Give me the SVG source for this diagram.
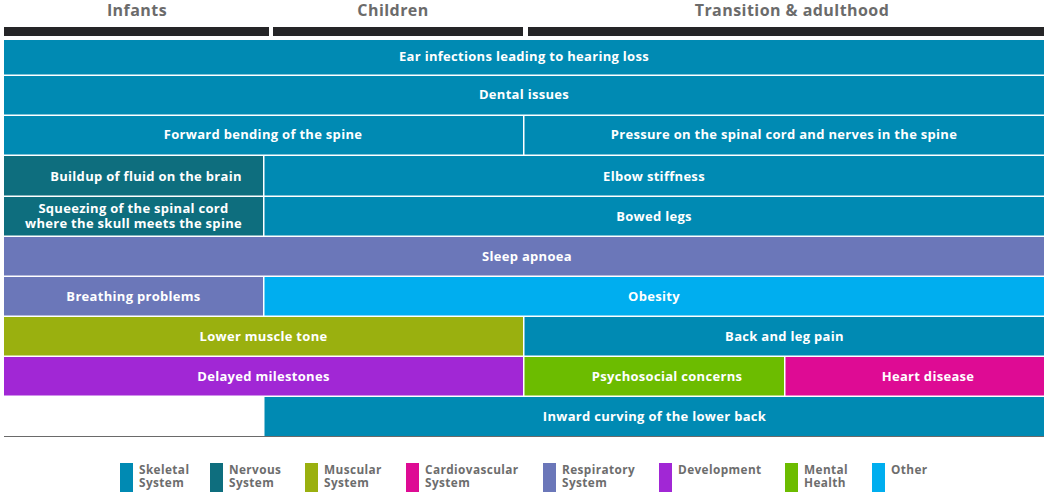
<svg xmlns="http://www.w3.org/2000/svg" width="1048" height="501" viewBox="0 0 1048 501">
<style>
.hd{font-family:"Open Sans","Liberation Sans",sans-serif;font-weight:700;font-size:16px;letter-spacing:0.45px;fill:#6b6b6b;text-anchor:middle}
.t{font-family:"Open Sans","Liberation Sans",sans-serif;font-weight:700;font-size:13px;letter-spacing:0.3px;fill:#ffffff;text-anchor:middle}
.lg{font-family:"Open Sans","Liberation Sans",sans-serif;font-weight:700;font-size:11.8px;letter-spacing:0.4px;fill:#6d6d6d}
.sk{fill:#008ab3}.nv{fill:#0e6e7e}.mu{fill:#9ab00f}.cv{fill:#de0b94}.rs{fill:#6b77b9}.dv{fill:#a127d5}.mh{fill:#6cbc00}.ot{fill:#00aeef}
.bar{fill:#252527}
</style>
<rect width="1048" height="501" fill="#ffffff"/>
<g id="header">
<text class="hd" x="137" y="16">Infants</text>
<text class="hd" x="393" y="16">Children</text>
<text class="hd" x="792" y="16">Transition &amp; adulthood</text>
<rect class="bar" x="4" y="27" width="265" height="9"/>
<rect class="bar" x="273" y="27" width="250" height="9"/>
<rect class="bar" x="528" y="27" width="516" height="9"/>
</g>
<g id="row1"><rect class="sk" x="4" y="40" width="1040" height="34.5"/><text class="t" x="524" y="61">Ear infections leading to hearing loss</text></g>
<g id="row2"><rect class="sk" x="4" y="76" width="1040" height="38.5"/><text class="t" x="524" y="99">Dental issues</text></g>
<g id="row3a"><rect class="sk" x="4" y="116" width="519" height="38.5"/><text class="t" x="263" y="139">Forward bending of the spine</text></g>
<g id="row3b"><rect class="sk" x="524.5" y="116" width="519.5" height="38.5"/><text class="t" x="784" y="139">Pressure on the spinal cord and nerves in the spine</text></g>
<g id="row4a"><rect class="nv" x="4" y="156" width="259" height="39.5"/><text class="t" x="146" y="181">Buildup of fluid on the brain</text></g>
<g id="row4b"><rect class="sk" x="264.5" y="156" width="779.5" height="39.5"/><text class="t" x="654" y="181">Elbow stiffness</text></g>
<g id="row5a"><rect class="nv" x="4" y="197" width="259" height="38.5"/><text class="t" x="133.5" y="213">Squeezing of the spinal cord</text><text class="t" x="133.5" y="228">where the skull meets the spine</text></g>
<g id="row5b"><rect class="sk" x="264.5" y="197" width="779.5" height="38.5"/><text class="t" x="654" y="221">Bowed legs</text></g>
<g id="row6"><rect class="rs" x="4" y="237" width="1040" height="38.5"/><text class="t" x="527" y="261">Sleep apnoea</text></g>
<g id="row7a"><rect class="rs" x="4" y="277" width="259" height="38.5"/><text class="t" x="133.5" y="301">Breathing problems</text></g>
<g id="row7b"><rect class="ot" x="264.5" y="277" width="779.5" height="38.5"/><text class="t" x="654" y="301">Obesity</text></g>
<g id="row8a"><rect class="mu" x="4" y="317" width="519" height="38.5"/><text class="t" x="263.5" y="341">Lower muscle tone</text></g>
<g id="row8b"><rect class="sk" x="524.5" y="317" width="519.5" height="38.5"/><text class="t" x="784.5" y="341">Back and leg pain</text></g>
<g id="row9a"><rect class="dv" x="4" y="357" width="519" height="38.5"/><text class="t" x="263.5" y="381">Delayed milestones</text></g>
<g id="row9b"><rect class="mh" x="524.5" y="357" width="259.5" height="38.5"/><text class="t" x="667" y="381">Psychosocial concerns</text></g>
<g id="row9c"><rect class="cv" x="785.5" y="357" width="258.5" height="38.5"/><text class="t" x="928" y="381">Heart disease</text></g>
<g id="row10"><rect class="sk" x="264.5" y="397" width="779.5" height="39"/><text class="t" x="654.5" y="421">Inward curving of the lower back</text></g>
<g id="baseline"><line x1="4" y1="436.5" x2="1044" y2="436.5" stroke="#6a6a6a" stroke-width="1.2"/></g>
<g id="legend">
<rect class="sk" x="120" y="463" width="13" height="29"/><text class="lg" x="139" y="474">Skeletal<tspan x="139" dy="12.5">System</tspan></text>
<rect class="nv" x="210" y="463" width="13" height="29"/><text class="lg" x="229" y="474">Nervous<tspan x="229" dy="12.5">System</tspan></text>
<rect class="mu" x="305" y="463" width="13" height="29"/><text class="lg" x="324" y="474">Muscular<tspan x="324" dy="12.5">System</tspan></text>
<rect class="cv" x="406" y="463" width="13" height="29"/><text class="lg" x="425" y="474">Cardiovascular<tspan x="425" dy="12.5">System</tspan></text>
<rect class="rs" x="543" y="463" width="13" height="29"/><text class="lg" x="562" y="474">Respiratory<tspan x="562" dy="12.5">System</tspan></text>
<rect class="dv" x="659" y="463" width="13" height="29"/><text class="lg" x="678" y="474">Development</text>
<rect class="mh" x="785" y="463" width="13" height="29"/><text class="lg" x="804" y="474">Mental<tspan x="804" dy="12.5">Health</tspan></text>
<rect class="ot" x="872" y="463" width="13" height="29"/><text class="lg" x="891" y="474">Other</text>
</g>
</svg>
